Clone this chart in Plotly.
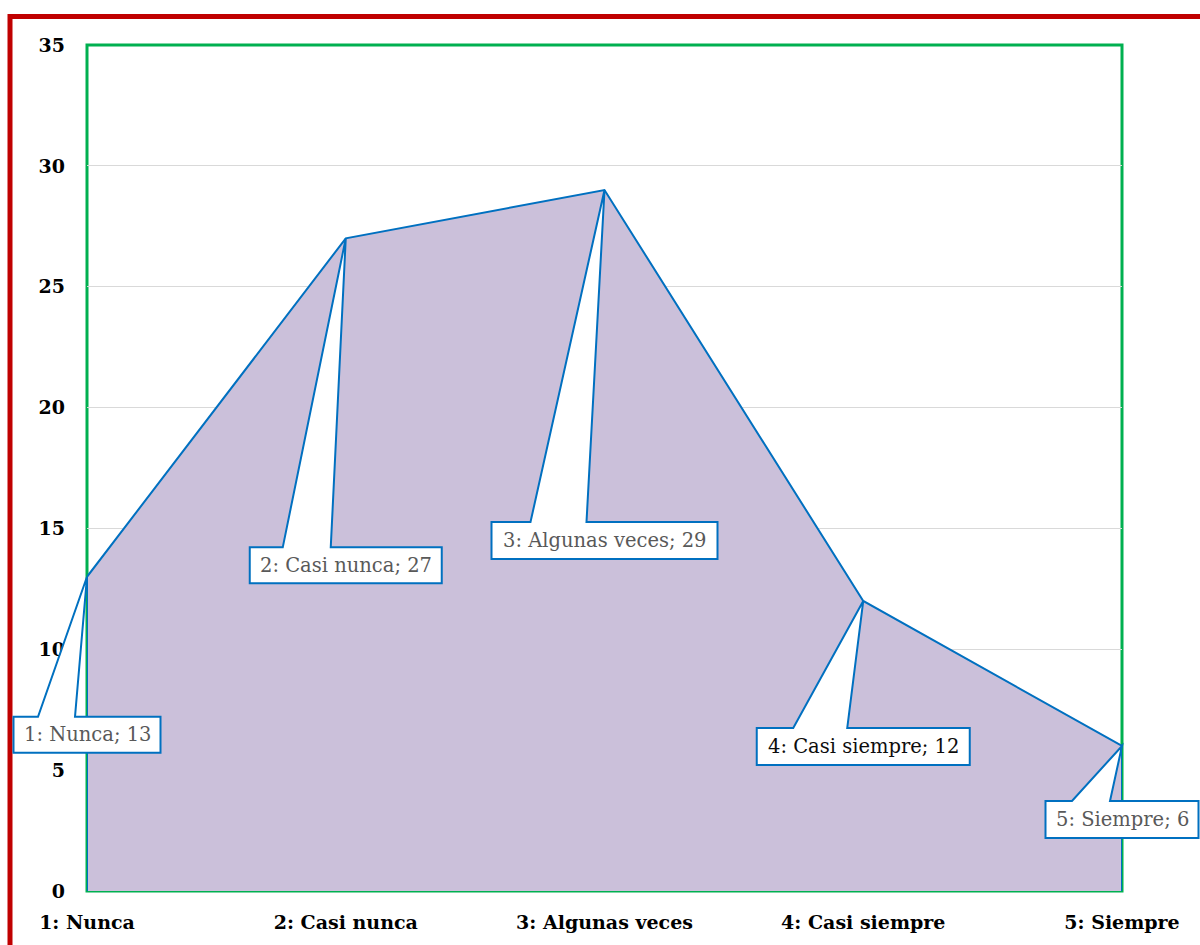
import plotly.graph_objects as go

# ---- data ----
categories = ["1: Nunca", "2: Casi nunca", "3: Algunas veces", "4: Casi siempre", "5: Siempre"]
values = [13, 27, 29, 12, 6]
y_ticks = [0, 5, 10, 15, 20, 25, 30, 35]
Y_MAX = 35

# ---- callout layout (pixels relative to each data point) ----
box_half_w = [73.5, 96, 113, 106.5, 76.5]
box_top = [140, 309, 332, 127, 55]
box_bottom = [176, 345, 369, 164, 92]
wedge_l = [-49, -63, -74, -70, -50]
wedge_r = [-12, -15, -18, -16, -12]
label_colors = ["#595959", "#595959", "#595959", "#0d0d0d", "#595959"]

FONT = "DejaVu Serif"
BLUE = "#0070C0"

W, H = 1200, 945
ML, MR, MT, MB = 87, 78, 45, 54
PW, PH = W - ML - MR, H - MT - MB


def px2paper(px, py):
    return (px - ML) / PW, (H - MB - py) / PH


fig = go.Figure()

fig.add_trace(go.Scatter(
    x=[categories[0]] + categories + [categories[-1]],
    y=[0] + values + [0],
    mode="lines",
    fill="toself",
    fillcolor="#CBC0DA",
    line=dict(color=BLUE, width=2),
    hoverinfo="skip",
    showlegend=False,
))

shapes = []
annotations = []

# plot area green border
shapes.append(dict(type="rect", xref="paper", yref="paper", x0=0, y0=0, x1=1, y1=1,
                   line=dict(color="#00B050", width=3), layer="between"))

# red outer border (left and top)
xl, yb = px2paper(10, 960)
_, yt = px2paper(10, 16.5)
xr, _ = px2paper(1215, 16.5)
shapes.append(dict(type="path", xref="paper", yref="paper",
                   path=f"M {xl},{yb} L {xl},{yt} L {xr},{yt}",
                   line=dict(color="#C00000", width=5), layer="above"))

n = len(categories)
for i, (cat, val) in enumerate(zip(categories, values)):
    hw = box_half_w[i]
    t = -box_top[i]
    b = -box_bottom[i]
    path = (f"M {-hw},{t} L {wedge_l[i]},{t} L 0,0 L {wedge_r[i]},{t} "
            f"L {hw},{t} L {hw},{b} L {-hw},{b} Z")
    shapes.append(dict(type="path", xref="paper", yref="paper",
                       xsizemode="pixel", ysizemode="pixel",
                       xanchor=i / (n - 1), yanchor=val / Y_MAX, path=path,
                       fillcolor="white", line=dict(color=BLUE, width=2),
                       layer="above"))
    annotations.append(dict(x=cat, y=val, xref="x", yref="y",
                            text=f"{cat}; {val}", showarrow=False,
                            xanchor="center", yanchor="middle",
                            xshift=0.5, yshift=(t + b) / 2,
                            font=dict(family=FONT, size=19.5, color=label_colors[i])))

fig.update_layout(
    width=W, height=H,
    margin=dict(l=ML, r=MR, t=MT, b=MB, autoexpand=False),
    paper_bgcolor="white",
    plot_bgcolor="white",
    shapes=shapes,
    annotations=annotations,
    showlegend=False,
    xaxis=dict(
        type="category",
        categoryorder="array", categoryarray=categories,
        range=[0, n - 1],
        showgrid=False, zeroline=False, showline=False,
        ticks="", ticklabelstandoff=18,
        tickfont=dict(family=FONT, size=19, color="black", weight="bold"),
        fixedrange=True,
    ),
    yaxis=dict(
        range=[0, Y_MAX],
        tickvals=y_ticks,
        showgrid=True, gridcolor="#D9D9D9", gridwidth=1,
        zeroline=False, showline=False,
        ticks="", ticklabelstandoff=21,
        tickfont=dict(family=FONT, size=19, color="black", weight="bold"),
        fixedrange=True,
    ),
)

fig.write_html("out.html",
               config={"displayModeBar": False},
               post_script="document.body.style.margin='0';document.body.style.padding='0';")
